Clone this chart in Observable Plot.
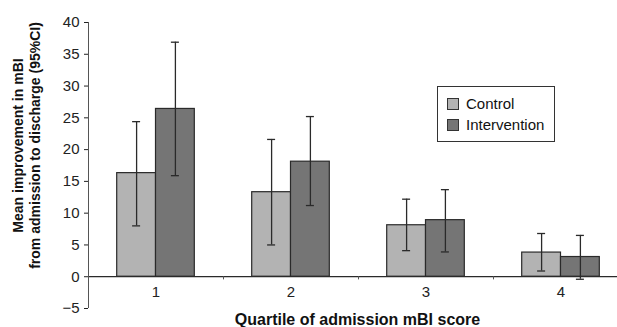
<!DOCTYPE html>
<html>
<head>
<meta charset="utf-8">
<script src="https://cdn.jsdelivr.net/npm/d3@7"></script>
<script src="https://cdn.jsdelivr.net/npm/@observablehq/plot@0.6"></script>
<style>
  body { margin: 0; background: white; }
  #wrap { position: relative; width: 617px; height: 327px; font-family: "Liberation Sans", Arial, sans-serif; }
  #legend { position: absolute; left: 437px; top: 86px; width: 118px; height: 56px; border: 1px solid #333; background: white; box-sizing: border-box; font-size: 15px; color: #111; }
  .item { position: absolute; left: 9px; display: flex; align-items: center; }
  .sw { width: 12px; height: 12px; border: 1px solid #333; margin-right: 7px; box-sizing: border-box; }
</style>
</head>
<body>
<div id="wrap"></div>
<script>
const quartiles = [1, 2, 3, 4];
const groups = ["Control", "Intervention"];
const controlMean = [16.3, 13.3, 8.1, 3.8];
const controlLow = [8.0, 5.0, 4.1, 0.9];
const controlHigh = [24.4, 21.6, 12.2, 6.8];
const interventionMean = [26.4, 18.1, 8.9, 3.1];
const interventionLow = [15.9, 11.2, 3.9, -0.4];
const interventionHigh = [36.9, 25.2, 13.7, 6.5];
const yTicks = [-5, 0, 5, 10, 15, 20, 25, 30, 35, 40];
const colors = ["#b3b3b3", "#757575"];
const yLabel = "Mean improvement in mBI\nfrom admission to discharge (95%CI)";
const xLabel = "Quartile of admission mBI score";

const control = quartiles.map((q, i) => ({q, mean: controlMean[i], lo: controlLow[i], hi: controlHigh[i]}));
const intervention = quartiles.map((q, i) => ({q, mean: interventionMean[i], lo: interventionLow[i], hi: interventionHigh[i]}));

const half = 67.5, barIn = 28.7, off = 19.4, cap = 4;
const stroke = "#2a2a2a";

const plot = Plot.plot({
  width: 617,
  height: 327,
  marginTop: 22,
  marginBottom: 19,
  marginLeft: 88,
  marginRight: 0,
  style: {fontFamily: "Liberation Sans, Arial, sans-serif", fontSize: "15px", color: "#222", background: "white", overflow: "hidden"},
  x: {type: "band", domain: quartiles, range: [88, 628], padding: 0, axis: null},
  y: {domain: [-5, 40], ticks: yTicks, tickSize: 4, tickPadding: 5, label: null},
  marks: [
    Plot.barY(control, {x: "q", y: "mean", fill: colors[0], stroke, strokeWidth: 1.2, insetLeft: barIn, insetRight: half}),
    Plot.barY(intervention, {x: "q", y: "mean", fill: colors[1], stroke, strokeWidth: 1.2, insetLeft: half, insetRight: barIn}),
    Plot.ruleY([0], {stroke, strokeWidth: 1.2}),
    Plot.ruleX([quartiles[0]], {x: d => d, y1: -5, y2: 40, dx: -half, stroke: "#555", strokeWidth: 1}),
    Plot.ruleX(quartiles.slice(1), {x: d => d, y1: 0, y2: -0.5, dx: -half, stroke: "#555"}),
    Plot.ruleX(control, {x: "q", y1: "lo", y2: "hi", dx: -off, stroke, strokeWidth: 1.3}),
    Plot.tickY(control, {x: "q", y: "lo", dx: -off, insetLeft: half - cap, insetRight: half - cap, stroke, strokeWidth: 1.3}),
    Plot.tickY(control, {x: "q", y: "hi", dx: -off, insetLeft: half - cap, insetRight: half - cap, stroke, strokeWidth: 1.3}),
    Plot.ruleX(intervention, {x: "q", y1: "lo", y2: "hi", dx: off, stroke, strokeWidth: 1.3}),
    Plot.tickY(intervention, {x: "q", y: "lo", dx: off, insetLeft: half - cap, insetRight: half - cap, stroke, strokeWidth: 1.3}),
    Plot.tickY(intervention, {x: "q", y: "hi", dx: off, insetLeft: half - cap, insetRight: half - cap, stroke, strokeWidth: 1.3}),
    Plot.text(quartiles, {x: d => d, y: () => 0, text: d => String(d), dy: 15, fontSize: 15, fill: "#222"}),
    Plot.text([xLabel], {frameAnchor: "bottom", text: d => d, lineAnchor: "middle", dy: 11, dx: 4.5, fontSize: 16, fontWeight: "bold", fill: "#111"}),
    Plot.text([yLabel], {frameAnchor: "left", text: d => d, rotate: -90, textAnchor: "middle", lineAnchor: "middle", dx: -62, dy: -20, fontSize: 14, lineHeight: 1.2, fontWeight: "bold", fill: "#111"})
  ]
});

const wrap = document.getElementById("wrap");
wrap.appendChild(plot);
const legend = document.createElement("div");
legend.id = "legend";
groups.forEach((g, i) => {
  const it = document.createElement("div");
  it.className = "item";
  it.style.top = (i === 0 ? 8 : 29) + "px";
  const sw = document.createElement("div");
  sw.className = "sw";
  sw.style.background = colors[i];
  const t = document.createElement("span");
  t.textContent = g;
  it.appendChild(sw);
  it.appendChild(t);
  legend.appendChild(it);
});
wrap.appendChild(legend);
</script>
</body>
</html>
